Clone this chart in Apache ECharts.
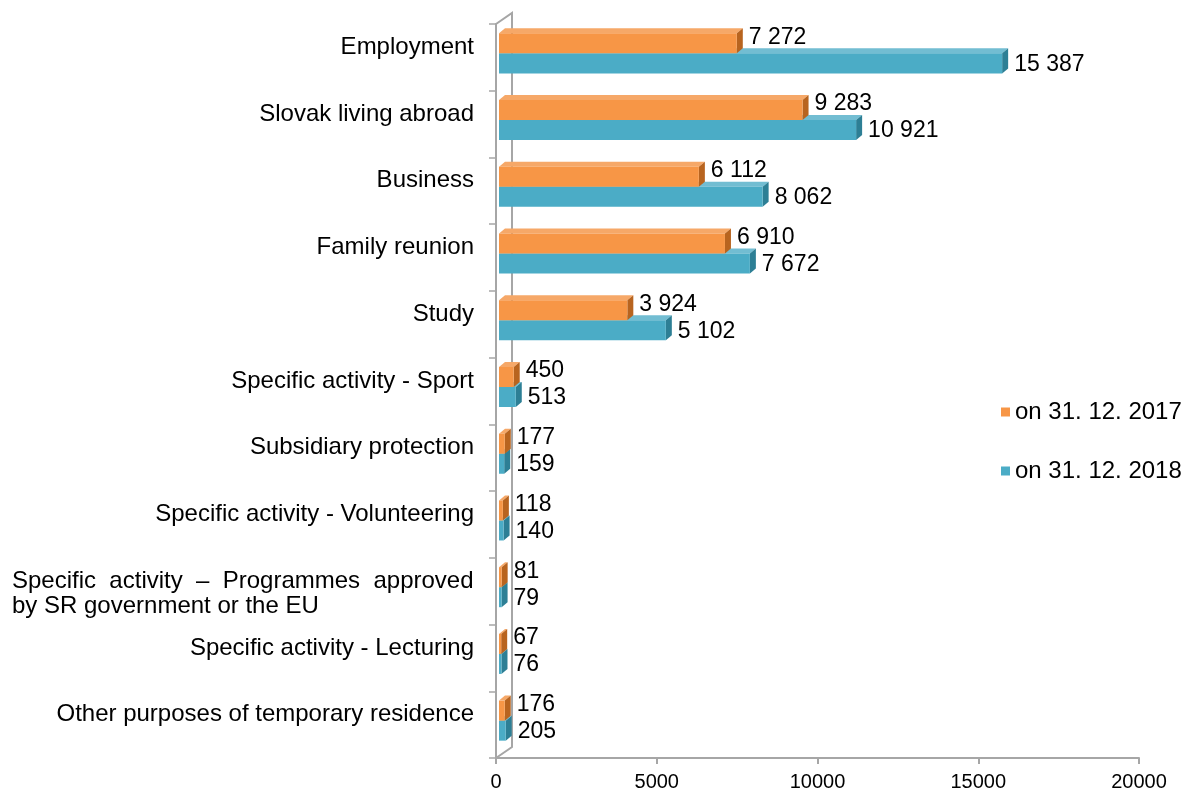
<!DOCTYPE html>
<html>
<head>
	<meta charset="UTF-8">
	<script src="https://cdn.jsdelivr.net/npm/echarts@6/dist/echarts.min.js"></script>
	<style>
		body { margin: 0; padding: 0; background: #fff; }
		#chart { width: 1190px; height: 796px; }
	</style>
</head>
<body>
	<div id="chart"></div>
	<script>
		// 数据
		var categories = [
			'Employment',
			'Slovak living abroad',
			'Business',
			'Family reunion',
			'Study',
			'Specific activity - Sport',
			'Subsidiary protection',
			'Specific activity - Volunteering',
			'Specific activity – Programmes approved by SR government or the EU',
			'Specific activity - Lecturing',
			'Other purposes of temporary residence'
		];
		var values2017 = [7272, 9283, 6112, 6910, 3924, 450, 177, 118, 81, 67, 176];
		var values2018 = [15387, 10921, 8062, 7672, 5102, 513, 159, 140, 79, 76, 205];
		var seriesNames = ['on 31. 12. 2017', 'on 31. 12. 2018'];
		var xTicks = [0, 5000, 10000, 15000, 20000];

		var colors2017 = { front: '#F79646', top: '#F6A868', side: '#B8641F' };
		var colors2018 = { front: '#4BACC6', top: '#72BDD2', side: '#2D7F95' };
		var dx = 6, dy = 5;

		function fmt(v) {
			return String(v).replace(/\B(?=(\d{3})+(?!\d))/g, ' ');
		}

		// 3D 条形
		function makeRender(c, upper) {
			return function (params, api) {
				var cat = api.value(1);
				var val = api.value(0);
				var p0 = api.coord([0, cat]);
				var p1 = api.coord([val, cat]);
				var bw = api.size([0, 1])[1] * 0.3;
				var x0 = p0[0], x1 = p1[0];
				var y0 = upper ? p0[1] - bw : p0[1];
				return {
					type: 'group',
					children: [
						{ type: 'polygon', shape: { points: [[x0, y0], [x0 + dx, y0 - dy], [x1 + dx, y0 - dy], [x1, y0]] }, style: { fill: c.top } },
						{ type: 'polygon', shape: { points: [[x1, y0], [x1 + dx, y0 - dy], [x1 + dx, y0 + bw - dy], [x1, y0 + bw]] }, style: { fill: c.side } },
						{ type: 'rect', shape: { x: x0, y: y0, width: x1 - x0, height: bw }, style: { fill: c.front } },
						{
							type: 'text',
							style: {
								x: x1 + 12, y: y0 + bw / 2 + (upper ? -6 : 1),
								text: fmt(val), fill: '#000', font: '23px "Liberation Sans", Arial',
								verticalAlign: 'middle', align: 'left'
							}
						}
					]
				};
			};
		}

		var chart = echarts.init(document.getElementById('chart'));
		var gray = '#A6A6A6';

		chart.setOption({
			animation: false,
			textStyle: { fontFamily: '"Liberation Sans", Arial, sans-serif' },
			grid: [
				{ left: 496, top: 24, width: 643, height: 734 },
				{ left: 499, top: 20, width: 654, height: 734 }
			],
			legend: {
				data: seriesNames,
				orient: 'vertical',
				left: 996,
				top: 395,
				itemWidth: 9,
				itemHeight: 9,
				itemGap: 35,
				icon: 'rect',
				textStyle: { fontSize: 24, color: '#000' }
			},
			xAxis: [
				{
					gridIndex: 0, type: 'value', min: xTicks[0], max: xTicks[xTicks.length - 1],
					interval: xTicks[1] - xTicks[0],
					axisLine: { show: true, lineStyle: { color: gray, width: 2 } },
					axisTick: { show: true, length: 6, lineStyle: { color: gray, width: 2 } },
					axisLabel: { fontSize: 20, color: '#000', margin: 14, formatter: function (v) { return String(v); } },
					splitLine: { show: false }
				},
				{
					gridIndex: 1, type: 'value', min: 0, max: 20000, show: false
				}
			],
			yAxis: [
				{
					gridIndex: 0, type: 'category', data: categories, inverse: true,
					axisLine: { show: true, lineStyle: { color: gray, width: 2 } },
					axisTick: { show: true, length: 7, lineStyle: { color: gray, width: 1.5 } },
					axisLabel: { show: false }
				},
				{
					gridIndex: 1, type: 'category', data: categories, inverse: true,
					axisLine: { show: false }, axisTick: { show: false },
					axisLabel: {
						fontSize: 24, color: '#000', margin: 25, align: 'right',
						padding: [0, 0, 12, 0], lineHeight: 25,
						formatter: function (v) {
							if (v.indexOf('Programmes') >= 0) {
								return '{s| }\n{j|Specific  activity  –  Programmes  approved}\n{j|by SR government or the EU}';
							}
							return v;
						},
						rich: {
							s: { fontSize: 10, lineHeight: 26, width: 462 },
							j: { fontSize: 24, color: '#000', width: 462, align: 'left', lineHeight: 25 }
						}
					}
				}
			],
			series: [
				{
					name: seriesNames[1], type: 'custom', xAxisIndex: 1, yAxisIndex: 1,
					color: colors2018.front,
					renderItem: makeRender(colors2018, false),
					encode: { x: 0, y: 1 },
					data: values2018.map(function (v, i) { return [v, i]; }),
					z: 2
				},
				{
					name: seriesNames[0], type: 'custom', xAxisIndex: 1, yAxisIndex: 1,
					color: colors2017.front,
					renderItem: makeRender(colors2017, true),
					encode: { x: 0, y: 1 },
					data: values2017.map(function (v, i) { return [v, i]; }),
					z: 3
				}
			]
		});

		// 背面墙线
		var gr = chart.getModel().getComponent('grid', 0).coordinateSystem.getRect();
		var wx = 16, wy = 11;
		var L = gr.x, T = gr.y, B = gr.y + gr.height;
		chart.setOption({
			graphic: [
				{ type: 'polyline', shape: { points: [[L, T], [L + wx, T - wy], [L + wx, B - wy], [L, B]] }, style: { stroke: gray, lineWidth: 2, fill: null }, z: 0 }
			]
		});
	</script>
</body>
</html>
